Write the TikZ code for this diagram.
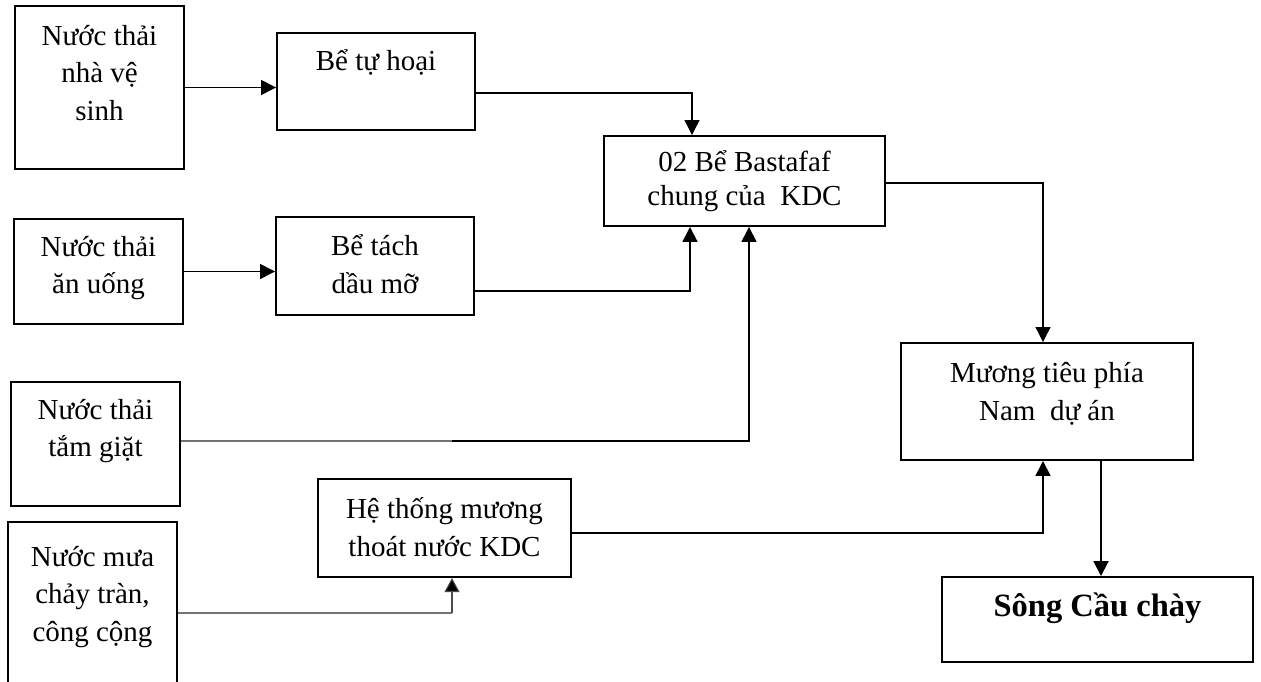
\documentclass[tikz,border=0pt]{standalone}
\usepackage{fontspec}
\setmainfont{Liberation Serif}
\usetikzlibrary{arrows.meta,fit}

\begin{document}
\begin{tikzpicture}[
		x=0.02cm, y=-0.02cm,
		font=\fontsize{16.5}{21.5}\selectfont,
		box/.style={draw, line width=1.1pt, inner sep=0pt},
		txt/.style={align=center, inner sep=0pt},
		flow/.style={line width=0.9pt, -{Triangle[length=8.5pt,width=8.5pt]}},
		pipe/.style={line width=0.6pt, black!55}
		]
		\useasboundingbox (0,0) rectangle (1261,682);
		\clip (0,0) rectangle (1261,682);
		
		% Boxes
		\node[box, fit={(15,6) (184,169)}] (wc) {};
		\node[box, fit={(277,33) (475,130)}] (septic) {};
		\node[box, fit={(604,136) (885,226)}] (bast) {};
		\node[box, fit={(14,219) (183,324)}] (food) {};
		\node[box, fit={(276,217) (474,315)}] (grease) {};
		\node[box, fit={(11,382) (180,506)}] (bath) {};
		\node[box, fit={(8,522) (177,720)}] (rain) {};
		\node[box, fit={(318,479) (571,577)}] (drain) {};
		\node[box, fit={(901,343) (1193,460)}] (ditch) {};
		\node[box, fit={(942,577) (1253,662)}] (river) {};
		
		% Texts
		\node[txt] (wc-t) at (99.5,73) {Nước thải\\nhà vệ\\sinh};
		\node[txt] (septic-t) at (376,62) {Bể tự hoại};
		\node[txt, font=\fontsize{16.5}{19}\selectfont] (bast-t) at (744.5,181) {02 Bể Bastafaf\\chung của\ \ KDC};
		\node[txt] (food-t) at (98.5,268) {Nước thải\\ăn uống};
		\node[txt] (grease-t) at (375,264) {Bể tách\\dầu mỡ};
		\node[txt] (bath-t) at (95.5,431) {Nước thải\\tắm giặt};
		\node[txt] (rain-t) at (92.5,597) {Nước mưa\\chảy tràn,\\công cộng};
		\node[txt] (drain-t) at (444.5,527.5) {Hệ thống mương\\thoát nước KDC};
		\node[txt] (ditch-t) at (1047,394) {Mương tiêu phía\\Nam\ \ dự án};
		\node[txt, font=\fontsize{18.5}{22}\selectfont\bfseries] (river-t) at (1097.5,608) {Sông Cầu chày};
		
		% Bends
		\draw
		(692,93) coordinate (b1)
		(690,291) coordinate (b2)
		(452,441) coordinate (g1)
		(749,441) coordinate (b3)
		(452,613) coordinate (b4)
		(1043,183) coordinate (b5)
		(1043,533) coordinate (b6)
		(1101,500) coordinate (b7);
		
		% Connectors
		\draw[flow] (wc.east) -- (wc.east -| septic.west);
		\draw[flow] (food.east) -- (food.east -| grease.west);
		\draw[flow, line width=0.7pt] (septic.east |- b1) -- (b1) -- (b1 |- bast.north);
		\draw[flow] (grease.east |- b2) -- (b2) -- (b2 |- bast.south);
		\draw[pipe] (bath.east |- g1) -- (g1);
		\draw[flow] (g1) -- (b3) -- (b3 |- bast.south);
		\draw[pipe] (rain.east |- b4) -- (b4);
		\draw[flow, line width=0.6pt, black!70, -{Triangle[length=8pt,width=8.5pt,fill=black]}] (b4) -- (b4 |- drain.south);
		\draw[flow, line width=0.7pt] (bast.east |- b5) -- (b5) -- (b5 |- ditch.north);
		\draw[flow] (drain.east |- b6) -- (b6) -- (b6 |- ditch.south);
		\draw[flow, line width=1.1pt] (b7 |- ditch.south) -- (b7 |- river.north);
\end{tikzpicture}
\end{document}
